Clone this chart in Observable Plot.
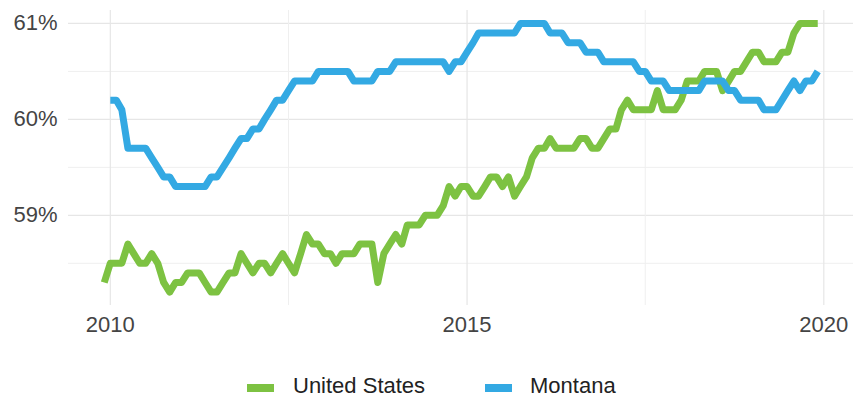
<!DOCTYPE html>
<html>
<head>
<meta charset="utf-8">
<script src="https://cdn.jsdelivr.net/npm/d3@7"></script>
<script src="https://cdn.jsdelivr.net/npm/@observablehq/plot@0.6"></script>
<style>
  html, body { margin: 0; padding: 0; background: #fff; }
  #wrap { position: relative; width: 853px; height: 400px; font-family: "Liberation Sans", Arial, sans-serif; }
  .sw { position: absolute; height: 8px; width: 27px; top: 384px; }
  .lt { position: absolute; top: 373px; font-size: 22px; color: #222; line-height: 26px; }
</style>
</head>
<body>
<div id="wrap"></div>
<script>
// ---- data ----
const seriesNames = ["United States", "Montana"];
const seriesColors = ["#7DC242", "#33A9E3"];

const usStart = "2009-12-01";
const usValues = [
  58.3,
  58.5, 58.5, 58.5, 58.7, 58.6, 58.5, 58.5, 58.6, 58.5, 58.3, 58.2, 58.3,
  58.3, 58.4, 58.4, 58.4, 58.3, 58.2, 58.2, 58.3, 58.4, 58.4, 58.6, 58.5,
  58.4, 58.5, 58.5, 58.4, 58.5, 58.6, 58.5, 58.4, 58.6, 58.8, 58.7, 58.7,
  58.6, 58.6, 58.5, 58.6, 58.6, 58.6, 58.7, 58.7, 58.7, 58.3, 58.6, 58.7,
  58.8, 58.7, 58.9, 58.9, 58.9, 59.0, 59.0, 59.0, 59.1, 59.3, 59.2, 59.3,
  59.3, 59.2, 59.2, 59.3, 59.4, 59.4, 59.3, 59.4, 59.2, 59.3, 59.4, 59.6,
  59.7, 59.7, 59.8, 59.7, 59.7, 59.7, 59.7, 59.8, 59.8, 59.7, 59.7, 59.8,
  59.9, 59.9, 60.1, 60.2, 60.1, 60.1, 60.1, 60.1, 60.3, 60.1, 60.1, 60.1,
  60.2, 60.4, 60.4, 60.4, 60.5, 60.5, 60.5, 60.3, 60.4, 60.5, 60.5, 60.6,
  60.7, 60.7, 60.6, 60.6, 60.6, 60.7, 60.7, 60.9, 61.0, 61.0, 61.0, 61.0
];

const mtStart = "2010-01-01";
const mtValues = [
  60.2, 60.2, 60.1, 59.7, 59.7, 59.7, 59.7, 59.6, 59.5, 59.4, 59.4, 59.3,
  59.3, 59.3, 59.3, 59.3, 59.3, 59.4, 59.4, 59.5, 59.6, 59.7, 59.8, 59.8,
  59.9, 59.9, 60.0, 60.1, 60.2, 60.2, 60.3, 60.4, 60.4, 60.4, 60.4, 60.5,
  60.5, 60.5, 60.5, 60.5, 60.5, 60.4, 60.4, 60.4, 60.4, 60.5, 60.5, 60.5,
  60.6, 60.6, 60.6, 60.6, 60.6, 60.6, 60.6, 60.6, 60.6, 60.5, 60.6, 60.6,
  60.7, 60.8, 60.9, 60.9, 60.9, 60.9, 60.9, 60.9, 60.9, 61.0, 61.0, 61.0,
  61.0, 61.0, 60.9, 60.9, 60.9, 60.8, 60.8, 60.8, 60.7, 60.7, 60.7, 60.6,
  60.6, 60.6, 60.6, 60.6, 60.6, 60.5, 60.5, 60.4, 60.4, 60.4, 60.3, 60.3,
  60.3, 60.3, 60.3, 60.3, 60.4, 60.4, 60.4, 60.4, 60.3, 60.3, 60.2, 60.2,
  60.2, 60.2, 60.1, 60.1, 60.1, 60.2, 60.3, 60.4, 60.3, 60.4, 60.4, 60.5
];

const xTickYears = [2010, 2015, 2020];
const xMinorYears = [2012.5, 2017.5];
const yTicks = [59, 60, 61];
const yMinor = [58.5, 59.5, 60.5];

// ---- build rows ----
function toRows(start, values, name) {
  const s = new Date(start + "T00:00:00Z");
  return values.map((v, i) => ({ date: d3.utcMonth.offset(s, i), value: v, series: name }));
}
const usRows = toRows(usStart, usValues, seriesNames[0]);
const mtRows = toRows(mtStart, mtValues, seriesNames[1]);

const yearToDate = y => {
  const yr = Math.floor(y);
  const m = Math.round((y - yr) * 12);
  return new Date(Date.UTC(yr, m, 1));
};
const xTicks = xTickYears.map(yearToDate);
const xMinor = xMinorYears.map(yearToDate);

const chart = Plot.plot({
  width: 853,
  height: 340,
  marginLeft: 68,
  marginRight: 0,
  marginTop: 10,
  marginBottom: 35,
  style: { fontFamily: "'Liberation Sans', Arial, sans-serif", fontSize: "22px", color: "#444", background: "white", overflow: "visible" },
  x: {
    type: "utc",
    domain: [new Date(Date.UTC(2009, 5, 1)), new Date(Date.UTC(2020, 5, 1))],
    ticks: xTicks,
    tickFormat: d3.utcFormat("%Y"),
    tickSize: 0,
    tickPadding: 11,
    label: null
  },
  y: {
    domain: [58.06, 61.135],
    ticks: yTicks,
    tickFormat: d => d + "%",
    tickSize: 0,
    tickPadding: 11,
    label: null
  },
  color: { domain: seriesNames, range: seriesColors },
  marks: [
    Plot.ruleY(yMinor, { stroke: "#EFEFEF", strokeWidth: 1 }),
    Plot.ruleY(yTicks, { stroke: "#E6E6E6", strokeWidth: 1.2 }),
    Plot.ruleX(xMinor, { stroke: "#EFEFEF", strokeWidth: 1 }),
    Plot.ruleX(xTicks, { stroke: "#E6E6E6", strokeWidth: 1.2 }),
    Plot.line(usRows, { x: "date", y: "value", stroke: "series", strokeWidth: 7, strokeLinejoin: "round", strokeLinecap: "butt" }),
    Plot.line(mtRows, { x: "date", y: "value", stroke: "series", strokeWidth: 7, strokeLinejoin: "round", strokeLinecap: "butt" })
  ]
});

const wrap = document.getElementById("wrap");
wrap.appendChild(chart);
chart.style.position = "absolute";
chart.style.left = "0px";
chart.style.top = "0px";

// legend
const legendPos = [{ sw: 247, tx: 293 }, { sw: 485, tx: 530 }];
seriesNames.forEach((name, i) => {
  const sw = document.createElement("div");
  sw.className = "sw";
  sw.style.left = legendPos[i].sw + "px";
  sw.style.background = seriesColors[i];
  wrap.appendChild(sw);
  const t = document.createElement("div");
  t.className = "lt";
  t.style.left = legendPos[i].tx + "px";
  t.textContent = name;
  wrap.appendChild(t);
});
</script>
</body>
</html>
